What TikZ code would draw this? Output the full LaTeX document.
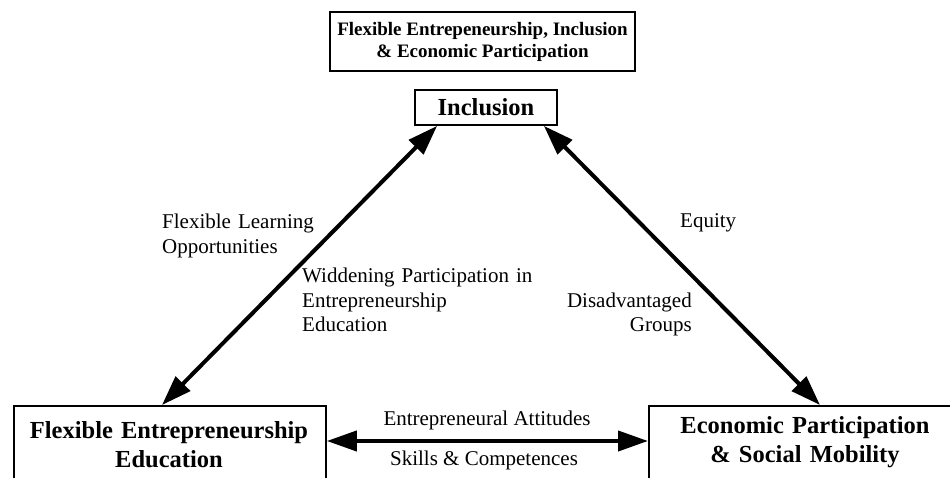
\documentclass[tikz,border=0pt]{standalone}
\usepackage{fontspec}
\setmainfont{Liberation Serif}
\usetikzlibrary{arrows.meta,calc}

\tikzset{
  framebox/.style={draw, line width=1.8pt, inner sep=0pt, align=center},
  boxfont/.style={font=\fontsize{24.5}{29}\selectfont\bfseries},
  boxtext/.style={boxfont, inner sep=0pt, align=center, anchor=base},
  biarrow/.style={line width=4pt, {Triangle[length=30pt,width=20pt]}-{Triangle[length=30pt,width=20pt]}},
  linklabel/.style={font=\fontsize{21}{24.5}\selectfont, inner sep=0pt}
}

\begin{document}
\begin{tikzpicture}[x=1pt, y=-1pt]
  \useasboundingbox (0,0) rectangle (950,478);

  % boxes
  \node[framebox, minimum width=305pt, minimum height=59pt, font=\fontsize{19}{22}\selectfont\bfseries] (title) at (482.5,41.5) {Flexible Entrepeneurship, Inclusion\\ \& Economic Participation};
  \node[framebox, boxfont, minimum width=142pt, minimum height=35pt] (incl) at (486,107.5) {Inclusion};
  \node[framebox, anchor=north west, minimum width=312pt, minimum height=110pt] (educ) at (13,405) {};
  \node[framebox, anchor=north west, minimum width=400pt, minimum height=110pt] (econ) at (648,405) {};
  \node[boxtext, text width=312pt] (eductext) at ($(educ.north west)+(156,33)$) {Flexible Entrepreneurship\\ Education};
  \node[boxtext, text width=314pt] (econtext) at ($(econ.north west)+(157,28)$) {Economic Participation\\ \& Social Mobility};

  % links
  \draw[biarrow] ($(incl.south west)+(23,0)$) -- ($(educ.north west)+(149,0)$);
  \draw[biarrow] ($(incl.south east)+(-14,0)$) -- ($(econ.north west)+(172,0)$);
  \draw[biarrow] ($(educ.north east)+(0,36)$) -- ($(econ.north west)+(0,36)$);

  % labels
  \node[linklabel, text width=160pt, align=left, anchor=base west] (flexlearn) at (162,229) {Flexible Learning\\ Opportunities};
  \node[linklabel, text width=235pt, align=left, anchor=base west] (widen) at (302,283) {Widdening Participation in\\ Entrepreneurship\\ Education};
  \node[linklabel, anchor=base west] (equity) at (680,228) {Equity};
  \node[linklabel, text width=130pt, align=right, anchor=base east] (disadv) at (692,307) {Disadvantaged\\ Groups};
  \node[linklabel, anchor=base] (attitudes) at (487,425) {Entrepreneural Attitudes};
  \node[linklabel, anchor=base] (skills) at (484,465) {Skills \& Competences};
\end{tikzpicture}
\end{document}
